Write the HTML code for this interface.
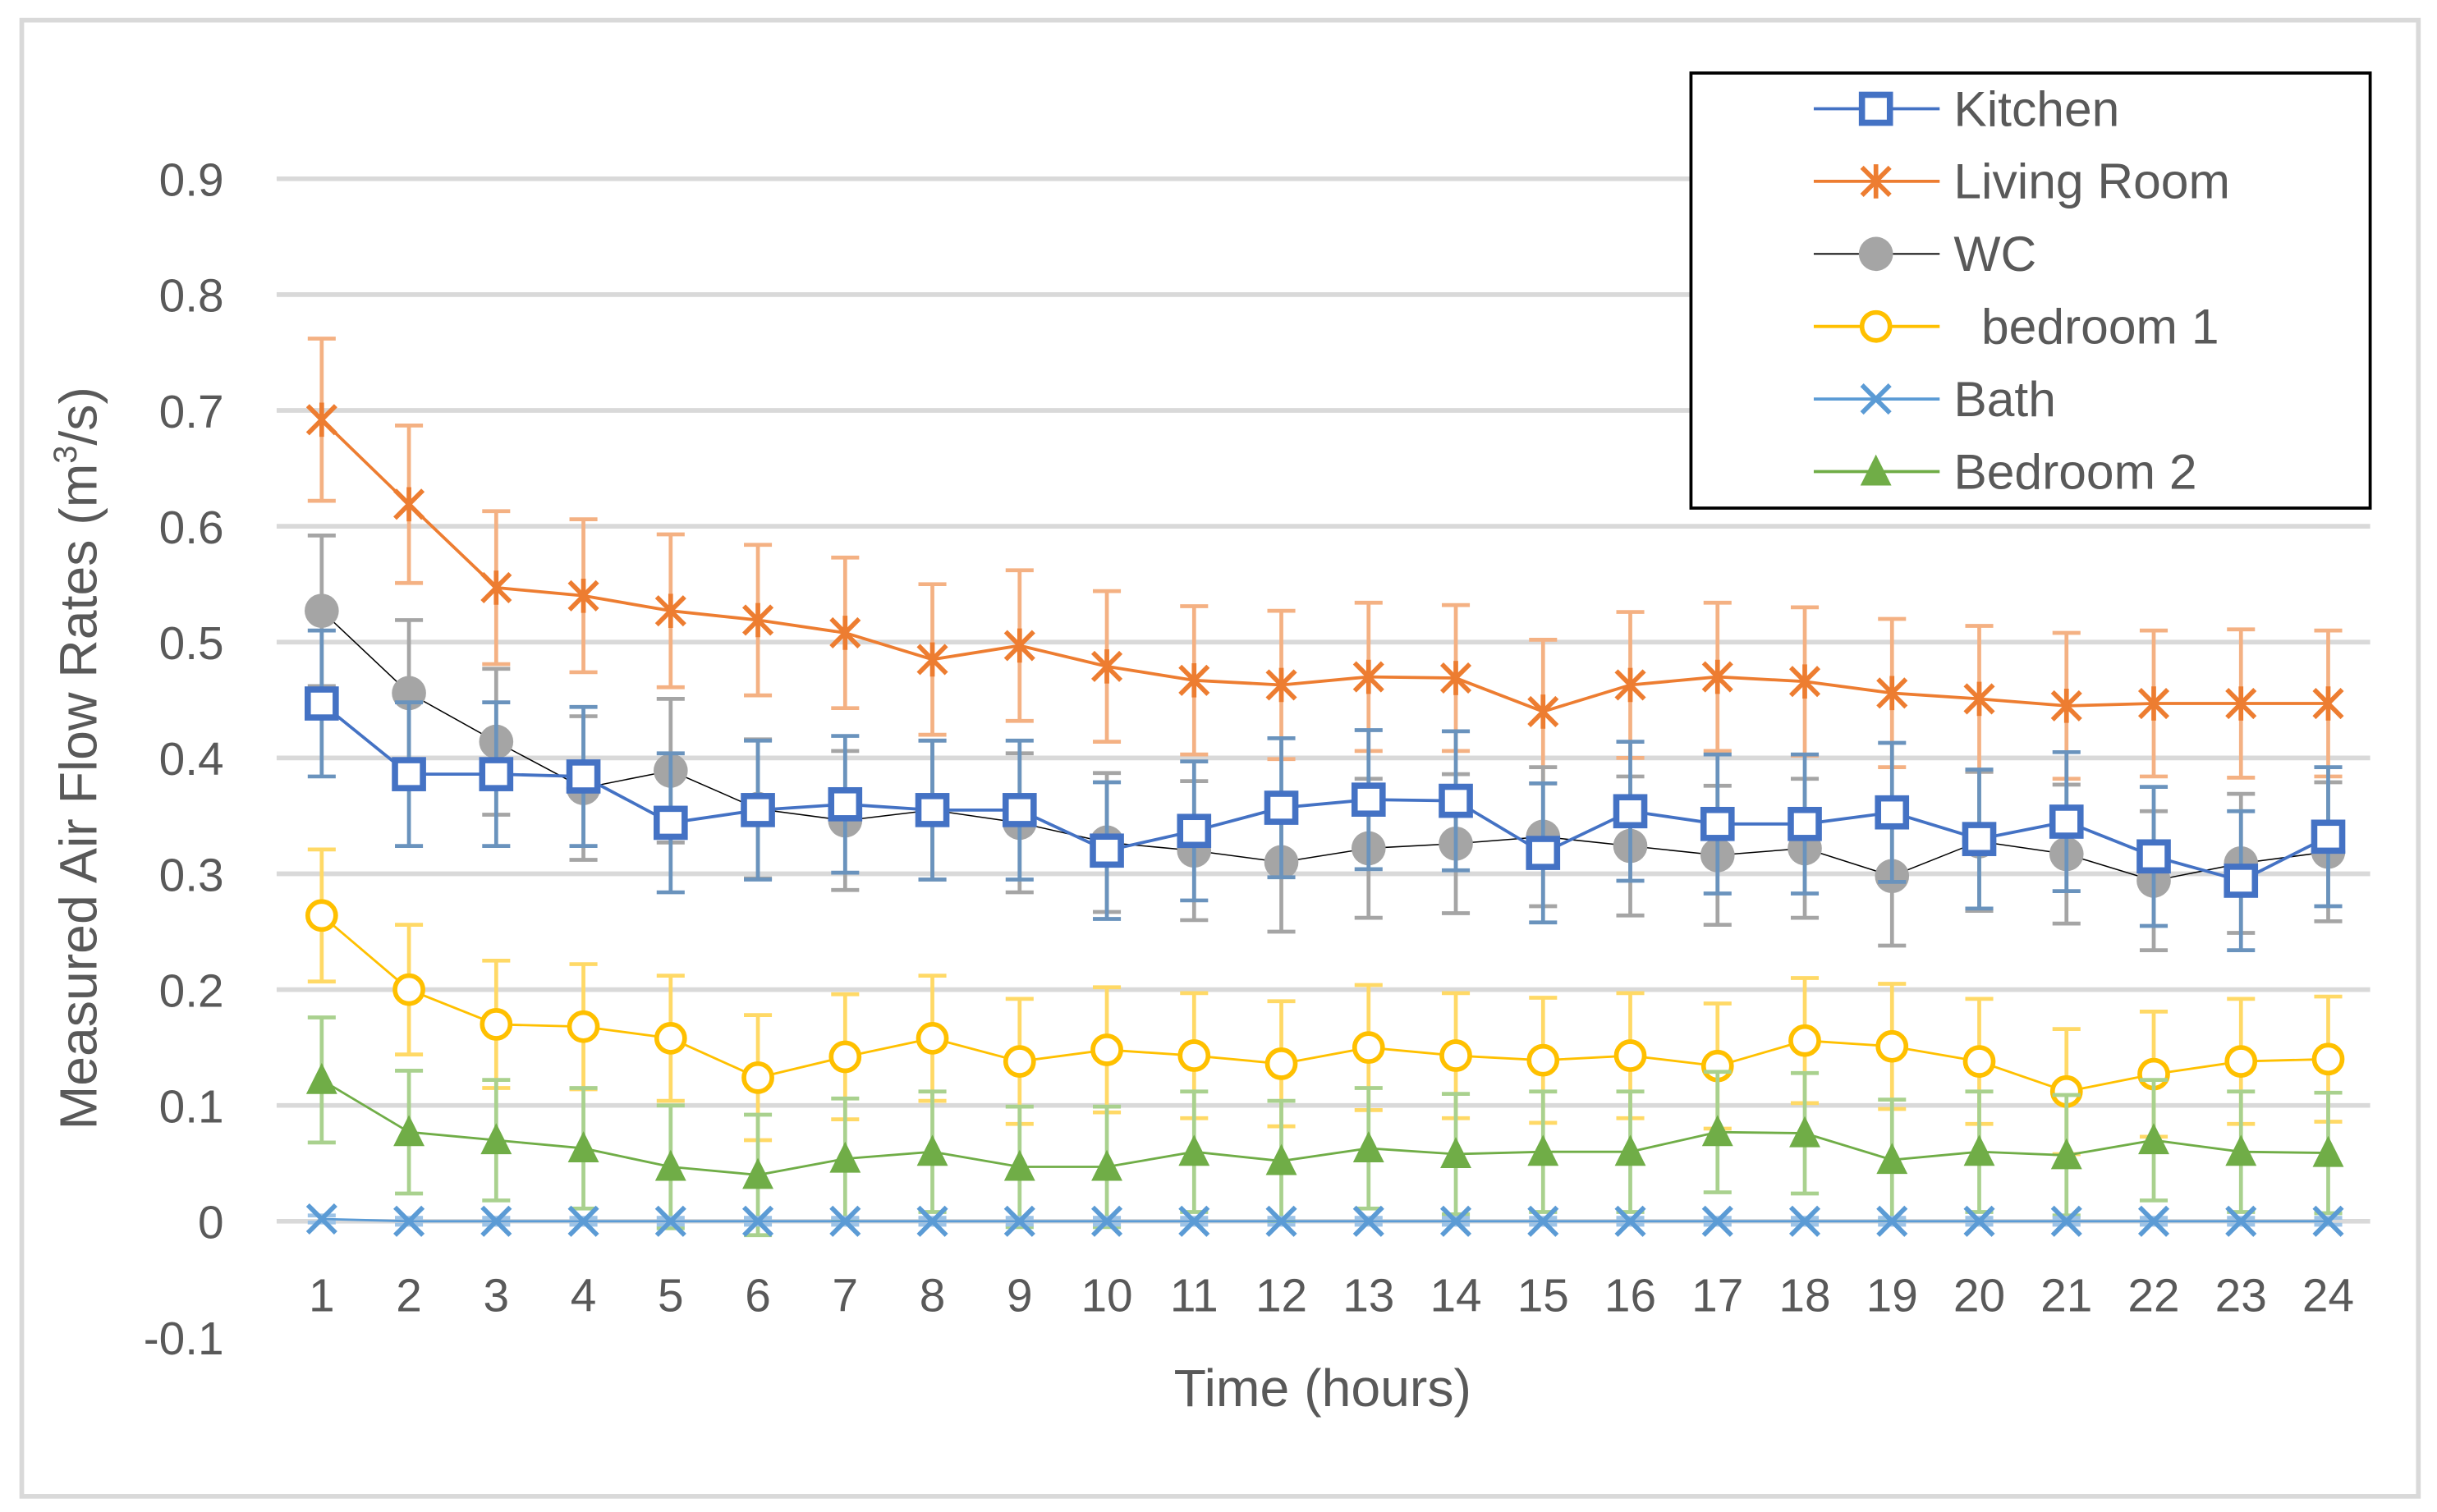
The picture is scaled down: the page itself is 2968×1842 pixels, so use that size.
<!DOCTYPE html>
<html><head><meta charset="utf-8"><style>html,body{margin:0;padding:0;background:#fff}svg{display:block}</style></head>
<body>
<svg id="chart" width="2968" height="1842" viewBox="0 0 1568 973.1" preserveAspectRatio="none" xmlns="http://www.w3.org/2000/svg" font-family="'Liberation Sans', sans-serif">
<rect x="14" y="13" width="1542" height="950" fill="#fff" stroke="#d9d9d9" stroke-width="3"/>
<g id="grid"></g><g id="ylabels"></g><g id="xlabels"></g><g id="series"></g>
<text x="851" y="905" font-size="34" fill="#595959" text-anchor="middle">Time (hours)</text>
<text transform="translate(62,488) rotate(-90)" font-size="34" fill="#595959" text-anchor="middle">Measured Air Flow Rates (m<tspan font-size="21" dy="-13">3</tspan><tspan dy="13">/s)</tspan></text>
<g id="legend"><rect x="1088" y="47" width="437" height="280" fill="#fff" stroke="#000" stroke-width="2"/></g>
</svg>
<script>
const hours=[1,2,3,4,5,6,7,8,9,10,11,12,13,14,15,16,17,18,19,20,21,22,23,24];
const yTicks=[-0.1,0,0.1,0.2,0.3,0.4,0.5,0.6,0.7,0.8,0.9];
const seriesNames=["Kitchen","Living Room","WC","  bedroom 1","Bath","Bedroom 2"];
const kitchen=[.447,.386,.386,.384,.344,.355,.36,.355,.355,.32,.337,.357,.364,.363,.318,.354,.343,.343,.353,.33,.345,.315,.294,.332];
const kitchenErr=[.063,.062,.062,.06,.06,.06,.059,.06,.06,.059,.06,.06,.06,.06,.06,.06,.06,.06,.06,.06,.06,.06,.06,.06];
const living=[.692,.619,.547,.54,.527,.519,.508,.485,.497,.479,.467,.463,.47,.469,.44,.463,.47,.466,.456,.451,.445,.447,.447,.447];
const livingErr=[.07,.068,.066,.066,.066,.065,.065,.065,.065,.065,.064,.064,.064,.063,.062,.063,.064,.064,.064,.063,.063,.063,.064,.063];
const wc=[.527,.456,.414,.374,.389,.356,.346,.355,.344,.327,.32,.31,.322,.326,.332,.324,.316,.322,.298,.328,.317,.294,.309,.319];
const wcErr=[.065,.063,.063,.062,.062,.06,.06,.06,.06,.06,.06,.06,.06,.06,.06,.06,.06,.06,.06,.06,.06,.06,.06,.06];
const bed1=[.264,.2,.17,.168,.158,.124,.142,.158,.138,.148,.143,.136,.15,.143,.139,.143,.134,.156,.151,.138,.112,.127,.138,.14];
const bed1Err=[.057,.056,.055,.054,.054,.054,.054,.054,.054,.054,.054,.054,.054,.054,.054,.054,.054,.054,.054,.054,.054,.054,.054,.054];
const bath=[.002,0,0,0,0,0,0,0,0,0,0,0,0,0,0,0,0,0,0,0,0,0,0,0];
const bathErr=[.003,.003,.003,.003,.003,.003,.003,.003,.003,.003,.003,.003,.003,.003,.003,.003,.003,.003,.003,.003,.003,.003,.003,.003];
const bed2=[.122,.077,.07,.063,.047,.04,.054,.06,.047,.047,.06,.052,.063,.058,.06,.06,.077,.076,.053,.06,.057,.07,.06,.059];
const bed2Err=[.054,.053,.052,.052,.053,.052,.052,.052,.052,.052,.052,.052,.052,.052,.052,.052,.052,.052,.052,.052,.052,.052,.052,.052];

const NS="http://www.w3.org/2000/svg";
const xs=h=>207+(h-1)*(1498-207)/23;
const ys=v=>786-v*745.5;
function mk(tag,attrs,parent){const e=document.createElementNS(NS,tag);for(const k in attrs)e.setAttribute(k,attrs[k]);parent.appendChild(e);return e;}
const grid=document.getElementById('grid'),yl=document.getElementById('ylabels'),xl=document.getElementById('xlabels'),sg=document.getElementById('series'),lg=document.getElementById('legend');
yTicks.forEach(t=>{
  if(t>-0.05){const l=mk('line',{x1:178,x2:1525,y1:ys(t),y2:ys(t),stroke:'#d9d9d9','stroke-width':3},grid);
  
  }
  const tx=mk('text',{x:144,y:ys(t)+11,'font-size':30,fill:'#595959','text-anchor':'end'},yl);
  tx.textContent=(Math.round(t*10)/10).toString();
  
  
});
hours.forEach(h=>{
  const tx=mk('text',{x:xs(h),y:844,'font-size':30,fill:'#595959','text-anchor':'middle'},xl);
  tx.textContent=h;
  
  
});
function marker(type,x,y,col,g){
  if(type==='square')mk('rect',{x:x-9,y:y-9,width:18,height:18,fill:'#fff',stroke:col,'stroke-width':4},g);
  else if(type==='star'){[[-9,-9,9,9],[-9,9,9,-9],[0,-11,0,11]].forEach(d=>mk('line',{x1:x+d[0],y1:y+d[1],x2:x+d[2],y2:y+d[3],stroke:col,'stroke-width':3},g));}
  else if(type==='x'){[[-9,-9,9,9],[-9,9,9,-9]].forEach(d=>mk('line',{x1:x+d[0],y1:y+d[1],x2:x+d[2],y2:y+d[3],stroke:col,'stroke-width':3},g));}
  else if(type==='dot')mk('circle',{cx:x,cy:y,r:11,fill:'#a5a5a5'},g);
  else if(type==='circle')mk('circle',{cx:x,cy:y,r:9,fill:'#fff',stroke:col,'stroke-width':3},g);
  else if(type==='tri')mk('polygon',{points:`${x},${y-11} ${x+10},${y+9} ${x-10},${y+9}`,fill:col},g);
}
const defs=[
 {vals:living,err:livingErr,line:'#ed7d31',ebar:'#f4b183',mark:'star',lw:2},
 {vals:wc,err:wcErr,line:'#000',ebar:'#a5a5a5',mark:'dot',lw:0.8},
 {vals:kitchen,err:kitchenErr,line:'#4472c4',ebar:'#6a93bd',mark:'square',lw:2},
 {vals:bed1,err:bed1Err,line:'#ffc000',ebar:'#ffd966',mark:'circle',lw:1.5},
 {vals:bed2,err:bed2Err,line:'#70ad47',ebar:'#a9d18e',mark:'tri',lw:1.5},
 {vals:bath,err:bathErr,line:'#5b9bd5',ebar:'#9dc3e6',mark:'x',lw:1.5}
];
const names=['living-room','wc','kitchen','bedroom-1','bedroom-2','bath'];
defs.forEach((d,si)=>{
  const g=mk('g',{},sg);
  
  
  hours.forEach((h,i)=>{
    const x=xs(h),y1=ys(d.vals[i]+d.err[i]),y2=ys(d.vals[i]-d.err[i]);
    mk('line',{x1:x,x2:x,y1:y1,y2:y2,stroke:d.ebar,'stroke-width':2.5},g);
    mk('line',{x1:x-9,x2:x+9,y1:y1,y2:y1,stroke:d.ebar,'stroke-width':2.5},g);
    mk('line',{x1:x-9,x2:x+9,y1:y2,y2:y2,stroke:d.ebar,'stroke-width':2.5},g);
  });
  mk('polyline',{points:hours.map((h,i)=>xs(h)+','+ys(d.vals[i])).join(' '),fill:'none',stroke:d.line,'stroke-width':d.lw},g);
  hours.forEach((h,i)=>marker(d.mark,xs(h),ys(d.vals[i]),d.line,g));
});
const lgOrder=[2,0,1,3,5,4];
seriesNames.forEach((n,i)=>{
  const d=defs[lgOrder[i]],y=70+i*46.7;
  const g=mk('g',{},lg);
  
  
  mk('line',{x1:1167,x2:1248,y1:y,y2:y,stroke:d.line,'stroke-width':d.lw<1?1:2},g);
  marker(d.mark,1207,y,d.line,g);
  const t=mk('text',{x:1257,y:y+11,'font-size':32,fill:'#595959'},g);
  t.setAttribute('xml:space','preserve');
  t.style.whiteSpace='pre';
  t.textContent=n;
});
</script>
</body></html>
